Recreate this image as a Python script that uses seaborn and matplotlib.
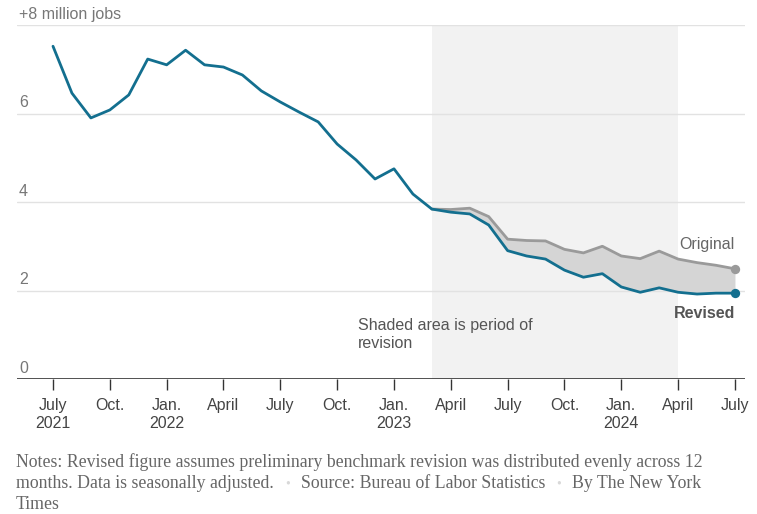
import numpy as np
import pandas as pd
import matplotlib.pyplot as plt
import seaborn as sns

sns.set_theme(style="white")
plt.rcParams["font.family"] = ["Liberation Sans", "DejaVu Sans"]

# ── Data (millions of jobs added since a baseline, July 2021 – July 2024) ────
months = pd.period_range("2021-07", "2024-07", freq="M").strftime("%Y-%m").tolist()
revised = [7.52, 6.46, 5.90, 6.08, 6.42, 7.23, 7.10, 7.43, 7.10, 7.05, 6.87, 6.51,
           6.26, 6.03, 5.81, 5.31, 4.95, 4.52, 4.75, 4.18, 3.84, 3.77, 3.73, 3.48,
           2.90, 2.78, 2.71, 2.46, 2.30, 2.38, 2.08, 1.96, 2.06, 1.96, 1.92, 1.94, 1.94]
original_months = months[20:]
original = [3.84, 3.83, 3.86, 3.67, 3.16, 3.13, 3.12, 2.93, 2.85, 3.00, 2.78, 2.72,
            2.89, 2.71, 2.63, 2.57, 2.49]
revision_start, revision_end = "2023-03", "2024-04"

tick_months = months[::3]
tick_labels = ["July\n2021", "Oct.", "Jan.\n2022", "April", "July", "Oct.",
               "Jan.\n2023", "April", "July", "Oct.", "Jan.\n2024", "April", "July"]
y_ticks = [0, 2, 4, 6, 8]
y_labels = ["0", "2", "4", "6", "+8 million jobs"]

idx = {m: i for i, m in enumerate(months)}
rev_df = pd.DataFrame({"t": [idx[m] for m in months], "jobs": revised})
orig_df = pd.DataFrame({"t": [idx[m] for m in original_months], "jobs": original})

BLUE = "#136f8f"
GRAY_LINE = "#9a9a9a"
TEXT = "#666666"
FS = 11.5

fig = plt.figure(figsize=(7.57, 5.14), dpi=100)
ax = fig.add_axes([17 / 757, 1 - 379 / 514, (745 - 17) / 757, (379 - 25) / 514])

# shaded revision period
ax.axvspan(idx[revision_start], idx[revision_end], color="#f2f2f2", lw=0, zorder=0)

# gridlines
for v in y_ticks[1:]:
    ax.axhline(v, color="#e2e2e2", lw=1, zorder=1)
ax.axhline(0, color="#333333", lw=1.2, zorder=2)

# gap between original and revised
ax.fill_between(orig_df["t"], orig_df["jobs"], revised[20:], color="#d5d5d5", lw=0, zorder=2)

sns.lineplot(data=orig_df, x="t", y="jobs", color=GRAY_LINE, lw=2, ax=ax, zorder=3)
sns.lineplot(data=rev_df, x="t", y="jobs", color=BLUE, lw=2, ax=ax, zorder=4)
ax.scatter([orig_df["t"].iloc[-1]], [original[-1]], s=45, color=GRAY_LINE, zorder=5, lw=0)
ax.scatter([rev_df["t"].iloc[-1]], [revised[-1]], s=45, color=BLUE, zorder=5, lw=0)

ax.set_xlim(-1.90, 36.53)
ax.set_ylim(0, 8)
ax.set_xlabel("")
ax.set_ylabel("")
for s in ax.spines.values():
    s.set_visible(False)

ax.set_yticks([])
ax.set_xticks([idx[m] for m in tick_months])
ax.set_xticklabels(tick_labels, fontsize=FS, color="#444444", linespacing=1.25)
ax.tick_params(axis="x", length=8, width=1, color="#333333", direction="out", pad=6, bottom=True)

# y labels sitting on top of the gridlines
for v, lab in zip(y_ticks, y_labels):
    ax.annotate(lab, xy=(0, v), xycoords=("axes fraction", "data"),
                xytext=(1.5, 2.5), textcoords="offset points",
                ha="left", va="bottom", fontsize=FS, color="#777777")

# annotations
ax.annotate("Original", xy=(36, original[-1]), xytext=(0, 12), textcoords="offset points",
            ha="right", va="bottom", fontsize=FS, color=TEXT)
ax.annotate("Revised", xy=(36, revised[-1]), xytext=(0, -9), textcoords="offset points",
            ha="right", va="top", fontsize=FS, color="#555555", fontweight="bold")
ax.text(16.1, 1.38, "Shaded area is period of\nrevision", ha="left", va="top",
        fontsize=FS, color="#555555", linespacing=1.25)

# footer notes
serif = ["Liberation Serif", "DejaVu Serif"]
fkw = dict(family=serif, fontsize=12.8, color="#666666")
bkw = dict(family=serif, fontsize=10, color="#d8d8d8", ha="left", va="center")
x0 = 16 / 757
fig.text(x0, 1 - 467 / 514,
         "Notes: Revised figure assumes preliminary benchmark revision was distributed evenly across 12",
         va="baseline", ha="left", **fkw)
t1 = fig.text(x0, 1 - 488 / 514, "months. Data is seasonally adjusted.",
              va="baseline", ha="left", **fkw)
b1 = ax.annotate("\u2022", xy=(1, 0.5), xycoords=t1, xytext=(8, 0), textcoords="offset points", **bkw)
t2 = ax.annotate("Source: Bureau of Labor Statistics", xy=(1, 0), xycoords=(b1, t1), xytext=(8, 0),
                 textcoords="offset points", ha="left", va="bottom", **fkw)
b2 = ax.annotate("\u2022", xy=(1, 0.5), xycoords=t2, xytext=(8, 0), textcoords="offset points", **bkw)
ax.annotate("By The New York", xy=(1, 0), xycoords=(b2, t1), xytext=(8, 0),
            textcoords="offset points", ha="left", va="bottom", **fkw)
fig.text(x0, 1 - 509 / 514, "Times", va="baseline", ha="left", **fkw)

fig.savefig("out.png", dpi=100)
